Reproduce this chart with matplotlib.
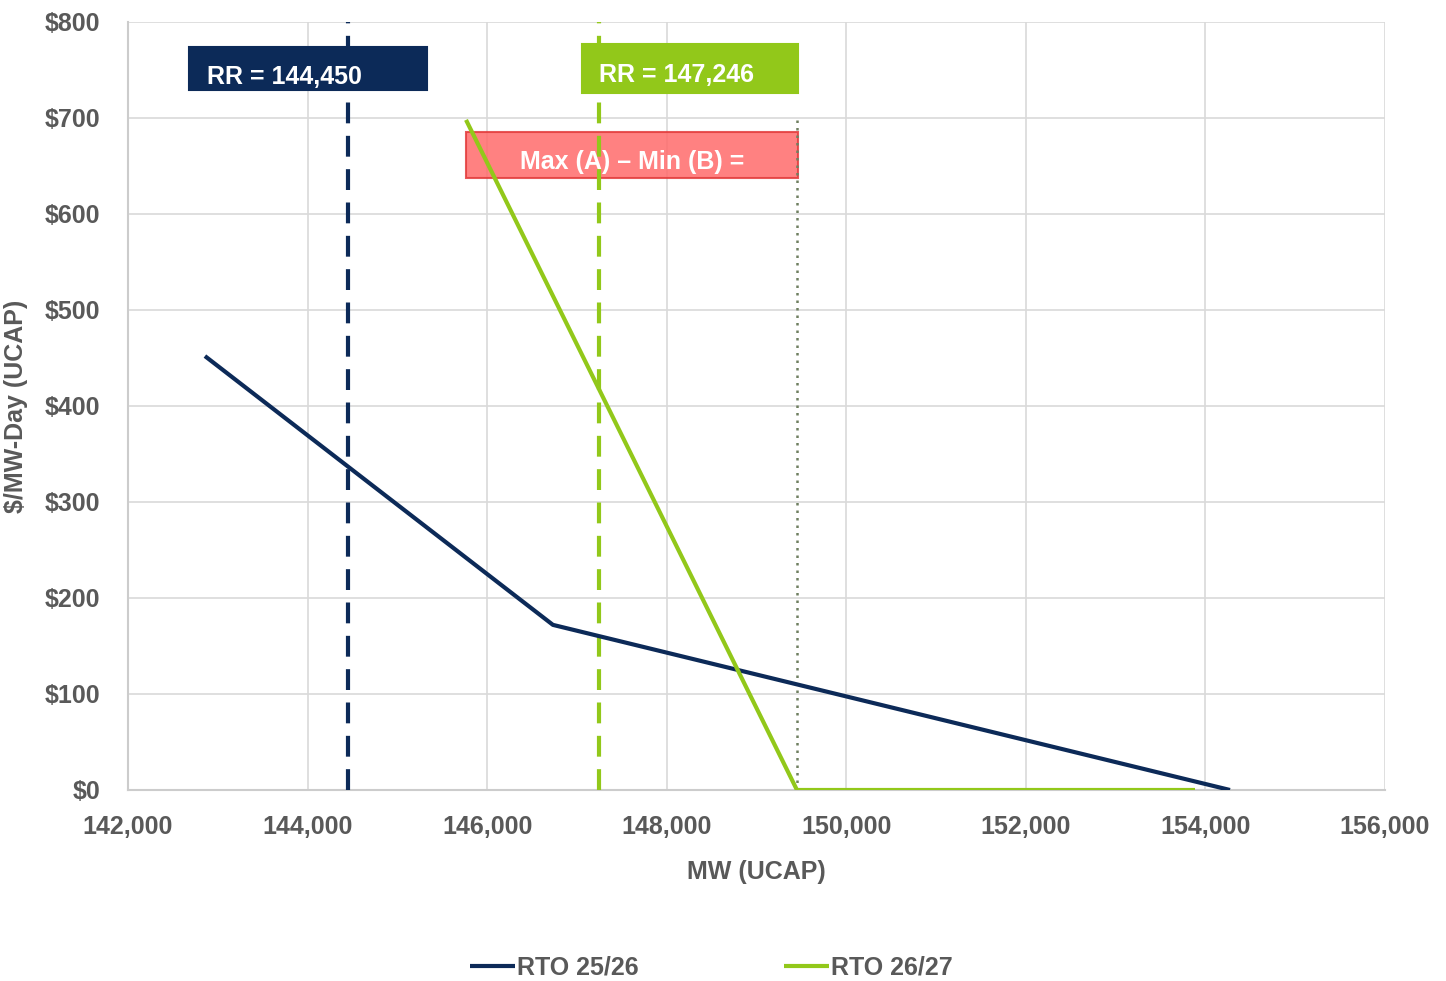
import matplotlib.pyplot as plt
from matplotlib.patches import Rectangle
from matplotlib.ticker import FuncFormatter, MultipleLocator

# Demand curve points (MW UCAP, $/MW-Day)
rto_2526_mw = [142857, 146733, 154274]
rto_2526_price = [452, 172, 0]
rto_2627_mw = [145765, 149451, 153884]
rto_2627_price = [698, 0, 0]

# Reliability requirements
rr_2526 = 144450
rr_2627 = 147246

series_names = ["RTO 25/26", "RTO 26/27"]

NAVY = "#0c2a58"
GREEN = "#92c81a"
GREY = "#595959"
FS = 18

plt.rcParams["font.family"] = ["Liberation Sans", "DejaVu Sans"]
plt.rcParams["font.weight"] = "bold"
plt.rcParams["axes.labelweight"] = "bold"

fig = plt.figure(figsize=(14.46, 9.81), dpi=100)
ax = fig.add_axes([0.0885, 0.1947, 0.8693, 0.7829])

ax.plot(rto_2526_mw, rto_2526_price, color=NAVY, lw=3, label=series_names[0],
        solid_capstyle="butt", zorder=4)
ax.plot(rto_2627_mw, rto_2627_price, color=GREEN, lw=3, label=series_names[1],
        solid_capstyle="butt", zorder=4)

# RR markers
ax.axvline(rr_2526, color=NAVY, lw=3, dashes=(5, 3), zorder=3)
ax.axvline(rr_2627, color=GREEN, lw=3, dashes=(5, 3), zorder=3)
# dotted drop at the green curve's zero point
ax.vlines(rto_2627_mw[1], 0, rto_2627_price[0], color="#6f7f60", lw=1.8,
          linestyles=(0, (1, 2)), zorder=3)

ax.set_xlim(142000, 156000)
ax.set_ylim(0, 800)
ax.xaxis.set_major_locator(MultipleLocator(2000))
ax.yaxis.set_major_locator(MultipleLocator(100))
ax.xaxis.set_major_formatter(FuncFormatter(lambda v, p: f"{v:,.0f}"))
ax.yaxis.set_major_formatter(FuncFormatter(lambda v, p: f"${v:,.0f}"))
ax.grid(True, color="#d9d9d9", lw=1.2)
ax.set_axisbelow(True)
for side in ["top", "right"]:
    ax.spines[side].set_visible(False)
for side in ["left", "bottom"]:
    ax.spines[side].set_color("#cccccc")
    ax.spines[side].set_linewidth(1.5)
ax.tick_params(length=0, labelsize=FS, colors=GREY)
ax.tick_params(axis="x", pad=18)
ax.tick_params(axis="y", pad=20)

ax.set_xlabel("MW (UCAP)", fontsize=FS, color=GREY)
ax.set_ylabel("$/MW-Day (UCAP)", fontsize=FS, color=GREY)
ax.xaxis.set_label_coords(0.5, -0.107)
ax.yaxis.set_label_coords(-0.089, 0.5)
ax.xaxis.label.set_va("center")
ax.yaxis.label.set_va("center")

# Annotation boxes (axes fraction)
boxes = [
    (0.0485, 0.911, 0.189, 0.056, NAVY, NAVY, 1.0),
    (0.361, 0.9076, 0.172, 0.0634, GREEN, GREEN, 1.0),
    (0.269, 0.797, 0.264, 0.060, "#ff6b6b", "#e23b3b", 0.85),
]
for x0, y0, w, h, fc, ec, alpha in boxes:
    ax.add_patch(Rectangle((x0, y0), w, h, transform=ax.transAxes, facecolor=fc,
                           edgecolor=ec, lw=1.5, alpha=alpha, zorder=2))

ax.text(0.063, 0.929, f"RR = {rr_2526:,}", transform=ax.transAxes, fontsize=FS,
        color="white", va="center", zorder=5)
ax.text(0.375, 0.931, f"RR = {rr_2627:,}", transform=ax.transAxes, fontsize=FS,
        color="white", va="center", zorder=5)
ax.text(0.401, 0.818, "Max (A) \u2013 Min (B) =", transform=ax.transAxes,
        fontsize=FS, color="white", va="center", ha="center", zorder=5)

fig.legend(loc="center", bbox_to_anchor=(0.492, 0.014), ncol=2, frameon=False,
           fontsize=FS, labelcolor=GREY, handlelength=1.8, handletextpad=0.1,
           columnspacing=5.8)

fig.savefig("out.png", dpi=100)
